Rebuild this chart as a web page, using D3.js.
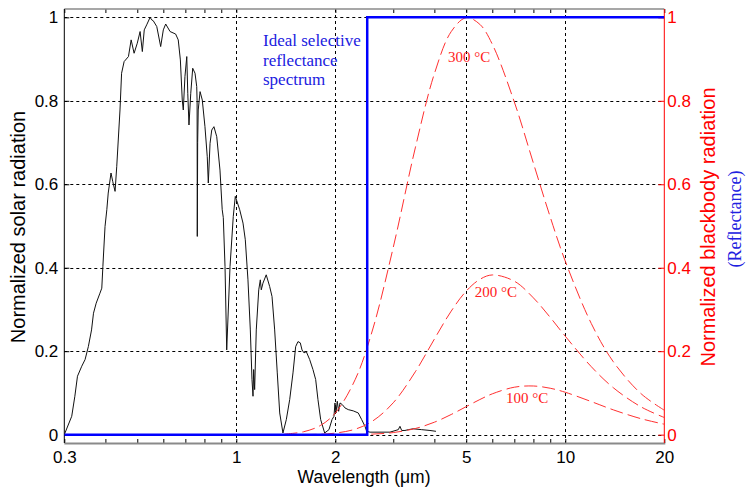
<!DOCTYPE html>
<html><head><meta charset="utf-8">
<script src="https://cdn.jsdelivr.net/npm/d3@7"></script>
<style>
body{margin:0;background:#fff;}
svg{display:block;}
</style></head>
<body>
<svg id="chart" width="746" height="489"></svg>
<script>
// ---- data ----
const xTickValues = [0.3, 1, 2, 5, 10, 20];
const xMinorTicks = [0.4, 0.5, 0.6, 0.7, 0.8, 0.9, 3, 4, 6, 7, 8, 9];
const yTickValues = [0, 0.2, 0.4, 0.6, 0.8, 1];
const xGridValues = [1, 2, 5, 10];

const solarWavelength = [0.300,0.316,0.323,0.329,0.339,0.347,0.355,0.363,0.368,0.375,0.385,0.390,0.393,0.399,0.404,0.408,0.416,0.421,0.428,0.433,0.443,0.448,0.456,0.470,0.479,0.489,0.500,0.510,0.518,0.525,0.534,0.547,0.553,0.559,0.573,0.589,0.600,0.610,0.629,0.654,0.666,0.676,0.685,0.690,0.698,0.707,0.712,0.718,0.727,0.737,0.749,0.758,0.760,0.761,0.763,0.766,0.776,0.788,0.803,0.816,0.822,0.832,0.842,0.855,0.872,0.892,0.906,0.913,0.924,0.935,0.957,0.979,0.993,1.024,1.048,1.065,1.085,1.103,1.116,1.124,1.129,1.137,1.150,1.170,1.183,1.191,1.205,1.233,1.263,1.284,1.308,1.332,1.355,1.386,1.419,1.453,1.487,1.515,1.540,1.565,1.584,1.606,1.632,1.671,1.710,1.743,1.771,1.805,1.856,1.913,1.954,1.981,1.995,2.009,2.027,2.047,2.066,2.100,2.140,2.189,2.267,2.348,2.405,2.461,2.490,2.549,2.932,3.107,3.144,3.182,3.256,3.333,3.451,3.660,3.879,4.045];
const solarValue = [0.000,0.044,0.092,0.140,0.164,0.180,0.211,0.251,0.291,0.315,0.339,0.351,0.403,0.499,0.539,0.579,0.627,0.607,0.583,0.642,0.778,0.866,0.894,0.906,0.946,0.914,0.938,0.966,0.918,0.970,0.982,1.000,0.994,0.992,0.978,0.930,0.970,0.984,0.966,0.960,0.946,0.898,0.802,0.778,0.858,0.906,0.818,0.742,0.818,0.878,0.866,0.834,0.800,0.475,0.700,0.778,0.822,0.802,0.738,0.666,0.603,0.698,0.730,0.738,0.714,0.634,0.539,0.520,0.403,0.203,0.403,0.523,0.571,0.539,0.507,0.467,0.371,0.251,0.132,0.092,0.156,0.108,0.251,0.347,0.371,0.347,0.363,0.383,0.355,0.331,0.251,0.148,0.052,0.004,0.036,0.084,0.148,0.211,0.223,0.220,0.203,0.196,0.199,0.180,0.156,0.132,0.084,0.036,0.004,0.012,0.036,0.044,0.076,0.052,0.080,0.056,0.076,0.072,0.064,0.060,0.057,0.052,0.036,0.020,0.008,0.006,0.006,0.012,0.020,0.010,0.010,0.012,0.014,0.012,0.010,0.008];

const bbWavelength = [1.4,1.6,1.8,2,2.3,2.6,3,3.5,4,4.5,5,5.5,6,7,8,9,10,12,14,17,20];
const bb300 = [0.0014,0.0069,0.0218,0.0519,0.1327,0.2532,0.4489,0.6871,0.8648,0.9658,0.9992,0.9832,0.9356,0.7972,0.6506,0.5216,0.4158,0.2662,0.1746,0.0981,0.0586];
const bb200 = [null,0.0002,0.0011,0.0037,0.0132,0.0329,0.0764,0.1506,0.2290,0.2960,0.3441,0.3721,0.3827,0.3678,0.3278,0.2810,0.2359,0.1628,0.1124,0.0665,0.0411];
const bb100 = [null,null,null,0.0001,0.0004,0.0014,0.0050,0.0147,0.0298,0.0483,0.0672,0.0842,0.0978,0.1137,0.1166,0.1112,0.1016,0.0792,0.0594,0.0382,0.0250];
const bbLabels = ["300 °C", "200 °C", "100 °C"];
const bbLabelAt = [[4.40, 0.892], [5.31, 0.331], [6.60, 0.076]];

const reflWavelength = [0.3, 2.5, 2.5, 20];
const reflValue = [0, 0, 1, 1];

// ---- layout ----
const L = 64.3, R = 664.3, T = 9, B = 443;
const sans = "'Liberation Sans', Arial, sans-serif";
const serif = "'Liberation Serif', 'Times New Roman', serif";

const svg = d3.select("#chart");
const x = d3.scaleLog().domain([0.3, 20]).range([L, R]);
const y = d3.scaleLinear().domain([-0.02, 1.02]).range([B, T]);

svg.append("defs").append("clipPath").attr("id", "clip")
  .append("rect").attr("x", L).attr("y", T).attr("width", R - L).attr("height", B - T);

// grid
const grid = svg.append("g").attr("stroke", "#000").attr("stroke-width", 1).attr("stroke-dasharray", "3,3");
grid.selectAll(".hg").data(yTickValues).join("line")
  .attr("x1", L).attr("x2", R)
  .attr("y1", d => Math.round(y(d)) + 0.5).attr("y2", d => Math.round(y(d)) + 0.5);
grid.selectAll(".vg").data(xGridValues).join("line")
  .attr("x1", d => Math.round(x(d)) + 0.5).attr("x2", d => Math.round(x(d)) + 0.5)
  .attr("y1", T).attr("y2", B);

// axes
function styleAxis(g, color) {
  g.select(".domain").remove();
  g.selectAll(".tick line").attr("stroke", color);
  g.selectAll(".tick text").attr("fill", color).style("font-family", sans).style("font-size", "17px");
}
const fmt = d => d3.format("~g")(d);

svg.append("g").attr("transform", `translate(0,${B})`)
  .call(d3.axisBottom(x).tickValues(xTickValues).tickFormat(fmt).tickSize(-4).tickPadding(8))
  .call(g => styleAxis(g, "#000"));
svg.append("g").attr("transform", `translate(0,${B})`)
  .call(d3.axisBottom(x).tickValues(xMinorTicks).tickFormat("").tickSize(-4))
  .call(g => styleAxis(g, "#000"));
svg.append("g").attr("transform", `translate(0,${T})`)
  .call(d3.axisTop(x).tickValues(xTickValues.concat(xMinorTicks)).tickFormat("").tickSize(-4))
  .call(g => styleAxis(g, "#000"));
svg.append("g").attr("transform", `translate(${L},0)`)
  .call(d3.axisLeft(y).tickValues(yTickValues).tickFormat(fmt).tickSize(-5).tickPadding(6))
  .call(g => styleAxis(g, "#000"));
svg.append("g").attr("transform", `translate(${R},0)`)
  .call(d3.axisRight(y).tickValues(yTickValues).tickFormat(fmt).tickSize(-6).tickPadding(3))
  .call(g => styleAxis(g, "#ff0000"));

// frame
svg.append("line").attr("x1", L).attr("x2", R).attr("y1", T).attr("y2", T).attr("stroke", "#8a8a8a").attr("stroke-width", 1.5);
svg.append("line").attr("x1", L).attr("x2", R + 1).attr("y1", B + 0.5).attr("y2", B + 0.5).attr("stroke", "#8a8a8a").attr("stroke-width", 2);
svg.append("line").attr("x1", L).attr("x2", L).attr("y1", T).attr("y2", B).attr("stroke", "#000").attr("stroke-width", 1);
svg.append("line").attr("x1", R).attr("x2", R).attr("y1", T).attr("y2", B).attr("stroke", "#ff0000").attr("stroke-width", 1);

const plot = svg.append("g").attr("clip-path", "url(#clip)");

// solar spectrum
const solar = solarWavelength.map((w, i) => [w, solarValue[i]]);
plot.append("path").datum(solar)
  .attr("fill", "none").attr("stroke", "#111").attr("stroke-width", 1)
  .attr("d", d3.line().x(d => x(d[0])).y(d => y(d[1])));

// blackbody curves
const bbLine = d3.line().defined(d => d[1] !== null)
  .x(d => x(d[0])).y(d => y(d[1])).curve(d3.curveCatmullRom);
[bb300, bb200, bb100].forEach(series => {
  plot.append("path").datum(bbWavelength.map((w, i) => [w, series[i]]))
    .attr("fill", "none").attr("stroke", "#ff3030").attr("stroke-width", 1)
    .attr("stroke-dasharray", "13,5").attr("d", bbLine);
});
svg.selectAll(".bbl").data(bbLabels).join("text")
  .attr("x", (d, i) => x(bbLabelAt[i][0])).attr("y", (d, i) => y(bbLabelAt[i][1]))
  .attr("fill", "#ff2020").style("font-family", serif).style("font-size", "15px")
  .text(d => d);

// ideal reflectance
plot.append("path").datum(reflWavelength.map((w, i) => [w, reflValue[i]]))
  .attr("fill", "none").attr("stroke", "#0000ff").attr("stroke-width", 2.5)
  .attr("d", d3.line().x(d => x(d[0])).y(d => y(d[1])));

// annotation
const ann = svg.append("text").attr("fill", "#2020e0").style("font-family", serif).style("font-size", "17px");
["Ideal selective", "reflectance", "spectrum"].forEach((t, i) => {
  ann.append("tspan").attr("x", 263).attr("y", 46 + i * 19.5).text(t);
});

// axis titles
svg.append("text").attr("text-anchor", "middle").attr("x", 364).attr("y", 483)
  .style("font-family", sans).style("font-size", "17.5px").attr("fill", "#000")
  .text("Wavelength (\u03bcm)");
svg.append("text").attr("transform", "translate(25,227) rotate(-90)").attr("text-anchor", "middle")
  .style("font-family", sans).style("font-size", "20px").attr("fill", "#000")
  .text("Normalized solar radiation");
svg.append("text").attr("transform", "translate(715,227) rotate(-90)").attr("text-anchor", "middle")
  .style("font-family", sans).style("font-size", "20px").attr("fill", "#ff0000")
  .text("Normalized blackbody radiation");
svg.append("text").attr("transform", "translate(741,219) rotate(-90)").attr("text-anchor", "middle")
  .style("font-family", serif).style("font-size", "18px").attr("fill", "#2020e0")
  .text("(Reflectance)");
</script>
</body></html>
